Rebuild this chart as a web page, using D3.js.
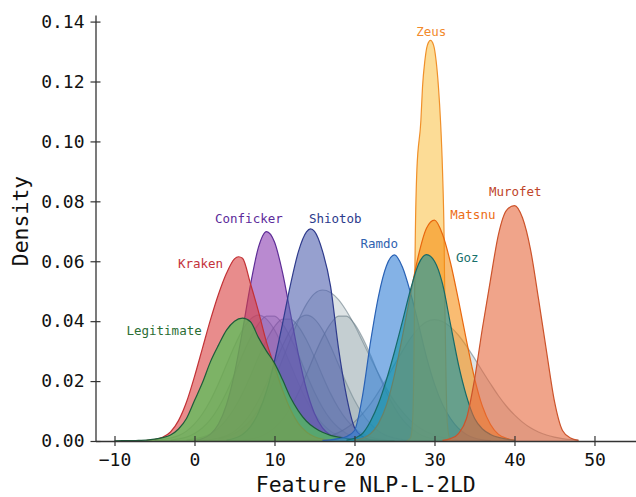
<!DOCTYPE html>
<html><head><meta charset="utf-8">
<script src="https://cdn.jsdelivr.net/npm/d3@7"></script>
<style>body{margin:0;background:#fff}svg{display:block}</style>
</head><body>
<svg id="chart" width="636" height="497"></svg>
<script>
// ---------------- data ----------------
const xTickValues = [-10, 0, 10, 20, 30, 40, 50];
const yTickValues = [0, 0.02, 0.04, 0.06, 0.08, 0.10, 0.12, 0.14];

const legitX = [-10,-9,-8,-7,-6,-5,-4,-3,-2,-1,0,1,2,3,4,5,6,7,8,9,10,11,12,13,14,15,16,17,18,19,20,21,22,23,24,25];
const legitY = [0.00005,0.0001,0.0001,0.0002,0.0003,0.0006,0.0011,0.0020,0.0040,0.0075,0.0135,0.0195,0.0265,0.0320,0.0370,0.0400,0.0410,0.0398,0.0345,0.0300,0.0260,0.0205,0.0145,0.0100,0.0066,0.0044,0.0029,0.0019,0.0013,0.0009,0.0006,0.0004,0.0003,0.0002,0.0001,0.0001];

const krakenX = [-6,-5,-4,-3,-2,-1,0,1,2,3,4,5,5.5,6,7,8,9,10,11,12,13,14,15,16,17];
const krakenY = [0.0002,0.0005,0.0012,0.0030,0.0068,0.0130,0.0215,0.0310,0.0405,0.0490,0.0560,0.0608,0.0615,0.0610,0.0525,0.0432,0.0330,0.0250,0.0170,0.0105,0.0058,0.0030,0.0014,0.0006,0.0002];

const confickerX = [0,1,2,3,4,5,6,7,8,9,10,11,12,13,14,15,16,17,18,19];
const confickerY = [0.0002,0.0008,0.0023,0.0057,0.0121,0.0226,0.0368,0.0522,0.0647,0.0699,0.0664,0.0563,0.0425,0.0287,0.0172,0.0092,0.0044,0.0019,0.0007,0.0002];

const shiotobX = [4,5,6,7,8,9,10,11,12,13,14,14.5,15,16,17,18,19,20,21,22,23];
const shiotobY = [0.0003,0.0009,0.0022,0.0048,0.0094,0.0166,0.0267,0.0391,0.0522,0.0633,0.0698,0.0708,0.0700,0.0634,0.0518,0.0310,0.0150,0.0045,0.0015,0.0004,0.0001];

const ramdoX = [16,17,18,19,20,21,22,23,24,25,26,27,28,29,30,31,32,33,34,35,36,37];
const ramdoY = [0.0002,0.0004,0.0008,0.0015,0.0035,0.0150,0.0330,0.0483,0.0585,0.0621,0.0580,0.0495,0.0390,0.0280,0.0190,0.0122,0.0075,0.0042,0.0022,0.0010,0.0004,0.0001];

const zeusX = [26.5,27.0,27.25,27.4,27.5,27.6,27.8,28.3,28.5,28.8,29.1,29.5,29.9,30.2,30.5,30.75,31.0,31.2,31.3,31.45,31.6,31.9,32.5];
const zeusY = [0,0.001,0.006,0.020,0.045,0.068,0.0905,0.107,0.118,0.127,0.132,0.1337,0.132,0.127,0.118,0.107,0.0905,0.068,0.045,0.020,0.006,0.001,0];

const matsnuX = [20,21,22,23,24,25,26,27,28,29,30,31,32,33,34,35,36,37,38,39,40];
const matsnuY = [0.0003,0.0009,0.0024,0.0058,0.0120,0.0220,0.0350,0.0490,0.0620,0.0710,0.0737,0.0690,0.0595,0.0470,0.0335,0.0210,0.0115,0.0055,0.0022,0.0009,0.0003];

const gozX = [19,20,21,22,23,24,25,26,27,28,29,30,31,32,33,34,35,36,37,38,39,40];
const gozY = [0.0003,0.0009,0.0025,0.0066,0.0125,0.0205,0.0298,0.0400,0.0505,0.0590,0.0622,0.0600,0.0525,0.0390,0.0255,0.0150,0.0076,0.0040,0.0022,0.0012,0.0006,0.0002];

const murofetX = [31,32,33,34,35,36,37,38,39,40,41,42,43,44,45,46,47,48];
const murofetY = [0.0002,0.0008,0.0025,0.0075,0.0205,0.0378,0.0538,0.0690,0.0770,0.0786,0.0745,0.0640,0.0475,0.0300,0.0132,0.0035,0.0010,0.0002];

// unlabeled grey families
const greyAX = [-5,-4,-3,-2,-1,0,1,2,3,4,5,6,7,8,9,10,11,12,13,14,15,16,17,18,19,20,21];
const greyAY = [0.0002,0.0005,0.0010,0.0018,0.0033,0.0057,0.0091,0.0136,0.0192,0.0255,0.0317,0.0371,0.0407,0.0420,0.0407,0.0371,0.0317,0.0255,0.0192,0.0136,0.0091,0.0057,0.0033,0.0018,0.0010,0.0005,0.0002];

const greyBX = [-3,-2,-1,0,1,2,3,4,5,6,7,8,9,10,11,12,13,14,15,16,17,18,19,20,21,22];
const greyBY = [0.0003,0.0007,0.0013,0.0025,0.0044,0.0072,0.0112,0.0163,0.0223,0.0287,0.0345,0.0391,0.0417,0.0417,0.0391,0.0345,0.0287,0.0223,0.0163,0.0112,0.0072,0.0044,0.0025,0.0013,0.0007,0.0003];

const greyCX = [-1,0,1,2,3,4,5,6,7,8,9,10,11,12,13,14,15,16,17,18,19,20,21,22,23,24];
const greyCY = [0.0003,0.0007,0.0013,0.0024,0.0043,0.0071,0.0110,0.0159,0.0218,0.0280,0.0337,0.0382,0.0407,0.0407,0.0382,0.0337,0.0280,0.0218,0.0159,0.0110,0.0071,0.0043,0.0024,0.0013,0.0007,0.0003];

const greyDX = [1,2,3,4,5,6,7,8,9,10,11,12,13,14,15,16,17,18,19,20,21,22,23,24,25,26,27];
const greyDY = [0.0002,0.0005,0.0010,0.0018,0.0033,0.0057,0.0091,0.0136,0.0192,0.0255,0.0317,0.0371,0.0407,0.0420,0.0407,0.0371,0.0317,0.0255,0.0192,0.0136,0.0091,0.0057,0.0033,0.0018,0.0010,0.0005,0.0002];

const greyEX = [3,4,5,6,7,8,9,10,11,12,13,14,15,16,17,18,19,20,21,22,23,24,25,26,27,28,29,30,31,32,33];
const greyEY = [0.0008,0.0014,0.0025,0.0043,0.0068,0.0104,0.0150,0.0207,0.0272,0.0340,0.0404,0.0457,0.0492,0.0504,0.0496,0.0472,0.0434,0.0387,0.0333,0.0278,0.0224,0.0175,0.0132,0.0097,0.0068,0.0047,0.0031,0.0020,0.0012,0.0007,0.0004];

const greyFX = [6,7,8,9,10,11,12,13,14,15,16,17,18,19,20,21,22,23,24,25,26,27,28,29,30,31];
const greyFY = [0.0003,0.0007,0.0013,0.0025,0.0044,0.0072,0.0112,0.0163,0.0223,0.0287,0.0345,0.0391,0.0417,0.0417,0.0391,0.0345,0.0287,0.0223,0.0163,0.0112,0.0072,0.0044,0.0025,0.0013,0.0007,0.0003];

const greyGX = [14,15,16,17,18,19,20,21,22,23,24,25,26,27,28,29,30,31,32,33,34,35,36,37,38,39,40,41,42,43,44,45,46,47,48];
const greyGY = [0.0004,0.0006,0.0011,0.0018,0.0028,0.0043,0.0064,0.0091,0.0124,0.0164,0.0208,0.0255,0.0301,0.0343,0.0376,0.0398,0.0405,0.0399,0.0381,0.0353,0.0317,0.0276,0.0233,0.0191,0.0151,0.0116,0.0087,0.0063,0.0044,0.0030,0.0020,0.0013,0.0008,0.0005,0.0003];

// label anchors in data units
const labelNames = ["Zeus","Conficker","Shiotob","Kraken","Legitimate","Ramdo","Matsnu","Murofet","Goz"];
const labelXs    = [29.6, 6.8, 17.6, 0.75, -3.8, 23.1, 34.8, 40.1, 34.1];
const labelYs    = [0.1352, 0.0728, 0.0728, 0.0577, 0.0354, 0.0643, 0.0740, 0.0818, 0.0599];

// ---------------- layout / style ----------------
const mLeft = 95.5, mRight = 636, mTop = 15, mBottom = 441;
const x = d3.scaleLinear().domain([-12.375, 55.19]).range([mLeft, mRight]);
const y = d3.scaleLinear().domain([0, 0.1422]).range([mBottom, mTop]);

const pair = (xs, ys) => xs.map((v, i) => [v, ys[i]]);

const GREY = {fill: "rgb(125,145,155)", fo: 0.26, stroke: "rgb(95,115,125)", so: 0.55};
const series = [
  {xs: greyAX, ys: greyAY, ...GREY},
  {xs: greyBX, ys: greyBY, ...GREY},
  {xs: greyCX, ys: greyCY, ...GREY},
  {xs: greyDX, ys: greyDY, ...GREY},
  {xs: greyEX, ys: greyEY, ...GREY},
  {xs: greyFX, ys: greyFY, ...GREY},
  {xs: greyGX, ys: greyGY, ...GREY},
  {xs: confickerX, ys: confickerY, fill: "rgb(138,60,177)", fo: 0.6, stroke: "#5e2d96", so: 1},
  {xs: shiotobX, ys: shiotobY, fill: "rgb(80,97,175)", fo: 0.6, stroke: "#2f3b8c", so: 1},
  {xs: krakenX, ys: krakenY, fill: "rgb(217,63,63)", fo: 0.6, stroke: "#c23236", so: 1},
  {xs: legitX, ys: legitY, fill: "rgb(80,195,85)", fo: 0.7, stroke: "#1d5c3a", so: 1},
  {xs: ramdoX, ys: ramdoY, fill: "rgb(50,127,213)", fo: 0.6, stroke: "#2a62b5", so: 1},
  {xs: zeusX, ys: zeusY, fill: "rgb(250,197,80)", fo: 0.6, stroke: "#f0902a", so: 1},
  {xs: matsnuX, ys: matsnuY, fill: "rgb(245,143,20)", fo: 0.6, stroke: "#e8680f", so: 1},
  {xs: gozX, ys: gozY, fill: "rgb(15,148,165)", fo: 0.6, stroke: "#176a68", so: 1},
  {xs: murofetX, ys: murofetY, fill: "rgb(230,103,60)", fo: 0.6, stroke: "#cc532b", so: 1}
];
const labelColors = ["#f28a2c","#5b2a9a","#2b3a8c","#c4323a","#2b6e34","#2f62b0","#ec6d14","#c0452a","#17706c"];

const svg = d3.select("#chart");
const area = d3.area().x(d => x(d[0])).y0(y(0)).y1(d => y(d[1])).curve(d3.curveMonotoneX);
const line = d3.line().x(d => x(d[0])).y(d => y(d[1])).curve(d3.curveMonotoneX);

const g = svg.append("g");
series.forEach(s => {
  const pts = pair(s.xs, s.ys);
  g.append("path").attr("d", area(pts)).attr("fill", s.fill).attr("fill-opacity", s.fo).attr("stroke", "none");
  g.append("path").attr("d", line(pts)).attr("fill", "none").attr("stroke", s.stroke)
    .attr("stroke-opacity", s.so).attr("stroke-width", 1.2);
});

// axes
const font = "'DejaVu Sans Mono', monospace";
const yAxis = d3.axisLeft(y).tickValues(yTickValues).tickFormat(d3.format(".2f")).tickSizeInner(5).tickSizeOuter(0).tickPadding(6);
const xAxis = d3.axisBottom(x).tickValues(xTickValues).tickFormat(d3.format("d")).tickSizeInner(5).tickSizeOuter(0).tickPadding(7);

const gy = svg.append("g").attr("transform", `translate(${mLeft},0)`).call(yAxis);
const gx = svg.append("g").attr("transform", `translate(0,${mBottom})`).call(xAxis);
[gy, gx].forEach(a => {
  a.select(".domain").attr("stroke", "#333").attr("stroke-width", 1.3);
  a.selectAll(".tick line").attr("stroke", "#333").attr("stroke-width", 1.2);
  a.selectAll(".tick text").attr("fill", "#111").style("font-family", font).style("font-size", "18px");
});
gy.selectAll(".tick line").attr("x1", 5);
gx.selectAll(".tick line").attr("y1", -5);

svg.append("text").attr("x", (mLeft + mRight) / 2).attr("y", 491.5).attr("text-anchor", "middle")
  .style("font-family", font).style("font-size", "21.5px").attr("fill", "#111").text("Feature NLP-L-2LD");
svg.append("text").attr("transform", "translate(28,221) rotate(-90)").attr("text-anchor", "middle")
  .style("font-family", font).style("font-size", "21.5px").attr("fill", "#111").text("Density");

// labels
labelNames.forEach((n, i) => {
  svg.append("text").attr("x", x(labelXs[i])).attr("y", y(labelYs[i])).attr("text-anchor", "middle")
    .style("font-family", font).style("font-size", "12.5px").attr("fill", labelColors[i]).text(n);
});
</script>
</body></html>
